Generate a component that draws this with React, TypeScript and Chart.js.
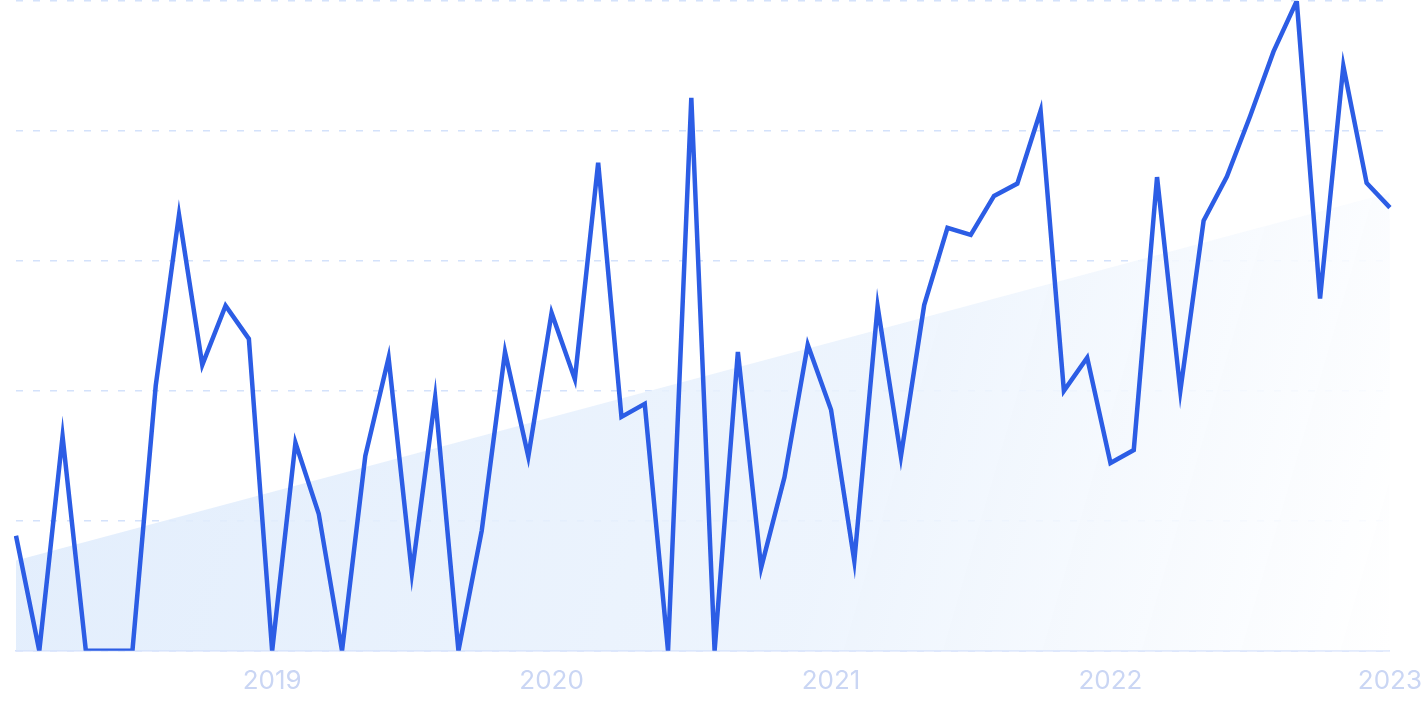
import React, { useEffect, useRef } from "react";
import { Chart, registerables } from "chart.js";

Chart.register(...registerables);

const months: string[] = [
  "2018-02", "2018-03", "2018-04", "2018-05", "2018-06", "2018-07", "2018-08", "2018-09", "2018-10", "2018-11", "2018-12",
  "2019-01", "2019-02", "2019-03", "2019-04", "2019-05", "2019-06", "2019-07", "2019-08", "2019-09", "2019-10", "2019-11", "2019-12",
  "2020-01", "2020-02", "2020-03", "2020-04", "2020-05", "2020-06", "2020-07", "2020-08", "2020-09", "2020-10", "2020-11", "2020-12",
  "2021-01", "2021-02", "2021-03", "2021-04", "2021-05", "2021-06", "2021-07", "2021-08", "2021-09", "2021-10", "2021-11", "2021-12",
  "2022-01", "2022-02", "2022-03", "2022-04", "2022-05", "2022-06", "2022-07", "2022-08", "2022-09", "2022-10", "2022-11", "2022-12",
  "2023-01",
];

const interest: number[] = [
  17.7, 0, 33.0, 0, 0, 0, 40.8, 67.1, 44.0, 53.1, 48.0,
  0, 32.0, 21.1, 0, 30.0, 45.1, 11.9, 39.0, 0, 18.5, 46.0, 29.9,
  52.0, 41.8, 75.1, 36.0, 38.0, 0, 85.1, 0, 46.0, 12.8, 26.7, 47.1,
  37.1, 13.8, 53.0, 29.9, 53.2, 65.1, 64.0, 70.0, 71.9, 83.1, 40.0, 45.1,
  28.9, 30.9, 72.9, 40.0, 66.2, 73.0, 82.3, 92.2, 100, 54.2, 90.0, 72.0,
  68.2,
];

// trend line end points (first and last month)
const trendMonths: string[] = ["2018-02", "2023-01"];
const trendValues: number[] = [13.9, 70.5];

const yTicks: number[] = [0, 20, 40, 60, 80, 100];

export default function App() {
  const canvasRef = useRef<HTMLCanvasElement | null>(null);

  useEffect(() => {
    const canvas = canvasRef.current;
    if (!canvas) return;
    const chart = new Chart(canvas, {
      type: "line",
      data: {
        labels: months,
        datasets: [
          {
            data: interest,
            borderColor: "#2c5de5",
            borderWidth: 4.5,
            pointRadius: 0,
            tension: 0,
            fill: false,
            borderJoinStyle: "miter",
          },
          {
            data: trendMonths.map((m, i) => ({ x: m, y: trendValues[i] })),
            borderWidth: 0,
            pointRadius: 0,
            tension: 0,
            fill: "origin",
            backgroundColor: (ctx: any) => {
              const { chart } = ctx;
              const area = chart.chartArea;
              if (!area) return "rgba(226,237,252,0.85)";
              const g = chart.ctx.createLinearGradient(area.left, area.top + 250, area.right, area.bottom);
              g.addColorStop(0, "rgba(222,235,252,0.88)");
              g.addColorStop(0.6, "rgba(235,243,253,0.88)");
              g.addColorStop(1, "rgba(255,255,255,0.9)");
              return g;
            },
          },
        ],
      },
      options: {
        animation: false,
        responsive: true,
        maintainAspectRatio: false,
        layout: { padding: { left: 16, right: 23, top: 1, bottom: 0 } },
        plugins: {
          legend: { display: false },
          tooltip: { enabled: false },
        },
        scales: {
          x: {
            type: "category",
            offset: false,
            grid: { display: false, drawTicks: false },
            border: { display: true, color: "#d3e0fb", width: 1.5 },
            ticks: {
              autoSkip: false,
              maxRotation: 0,
              padding: 15,
              color: "#cad6f4",
              font: { family: "Inter", size: 26 },
              callback: function (_v: any, index: number) {
                const m = months[index];
                return m.endsWith("-01") ? m.slice(0, 4) : "";
              },
            },
          },
          y: {
            min: yTicks[0],
            max: yTicks[yTicks.length - 1],
            afterBuildTicks: (axis: any) => {
              axis.ticks = yTicks.map((v) => ({ value: v }));
            },
            grid: { color: "#d4e2fb", lineWidth: 1.5, drawTicks: false },
            border: { display: false, dash: [7, 10] },
            ticks: { display: false },
          },
        },
      },
    });
    return () => chart.destroy();
  }, []);

  return (
    <div style={{ position: "fixed", left: 0, top: 0, width: 1437, height: 712, background: "#fff" }}>
      <canvas ref={canvasRef} />
    </div>
  );
}
